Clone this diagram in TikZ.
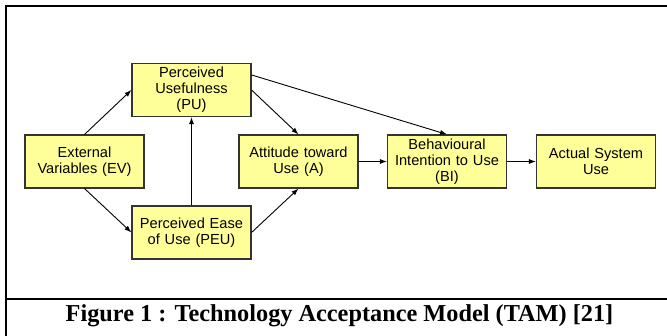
\documentclass[tikz,border=0pt]{standalone}
\usepackage{fontspec}
\setmainfont{Liberation Serif}
\setsansfont{Liberation Sans}
\usetikzlibrary{arrows.meta}

\definecolor{boxfill}{HTML}{FFFF99}
\definecolor{boxline}{HTML}{333333}

\tikzset{
  tambox/.style={draw=boxline, line width=1.1pt, fill=boxfill,
    minimum width=119pt, minimum height=53pt, inner sep=2pt,
    align=center, text width=115pt,
    font=\sffamily\fontsize{14.6}{16}\selectfont},
  tamarrow/.style={-{Latex[length=7pt,width=5pt]}, line width=0.9pt}
}

\begin{document}
\begin{tikzpicture}[x=1pt, y=-1pt]
  \useasboundingbox (0,0) rectangle (667,336);

  % Draw frame
  \draw[line width=2pt] (6,336) -- (6,6) -- (667,6);
  \draw[line width=2pt] (6,299.5) -- (667,299.5);

  % Draw boxes
  \node[tambox] (ev)  at (84.5,161.5) {External\\Variables (EV)};
  \node[tambox] (pu)  at (191.5,90)   {Perceived\\Usefulness\\(PU)};
  \node[tambox] (peu) at (191.5,232.5) {Perceived Ease\\of Use (PEU)};
  \node[tambox] (att) at (298.5,161.5) {Attitude toward\\Use (A)};
  \node[tambox] (bi)  at (447,161.5)  {Behavioural\\Intention to Use\\(BI)};
  \node[tambox] (asu) at (596,161.5)  {Actual System\\Use};

  % Draw arrows
  \draw[tamarrow] (ev.north) -- (pu.west);
  \draw[tamarrow] (ev.south) -- (peu.west);
  \draw[tamarrow] (peu.north) -- (pu.south);
  \draw[tamarrow] (pu.east) -- (att.north);
  \draw[tamarrow] (peu.east) -- (att.south);
  \draw[tamarrow] ([yshift=-12pt]pu.north east) -- (bi.north);
  \draw[tamarrow] (att.east) -- (bi.west);
  \draw[tamarrow] (bi.east) -- (asu.west);

  % Caption
  \node[font=\bfseries\fontsize{24.3}{27}\selectfont] (caption) at (339.5,316)
    {Figure 1 : Technology Acceptance Model (TAM) [21]};
\end{tikzpicture}
\end{document}
